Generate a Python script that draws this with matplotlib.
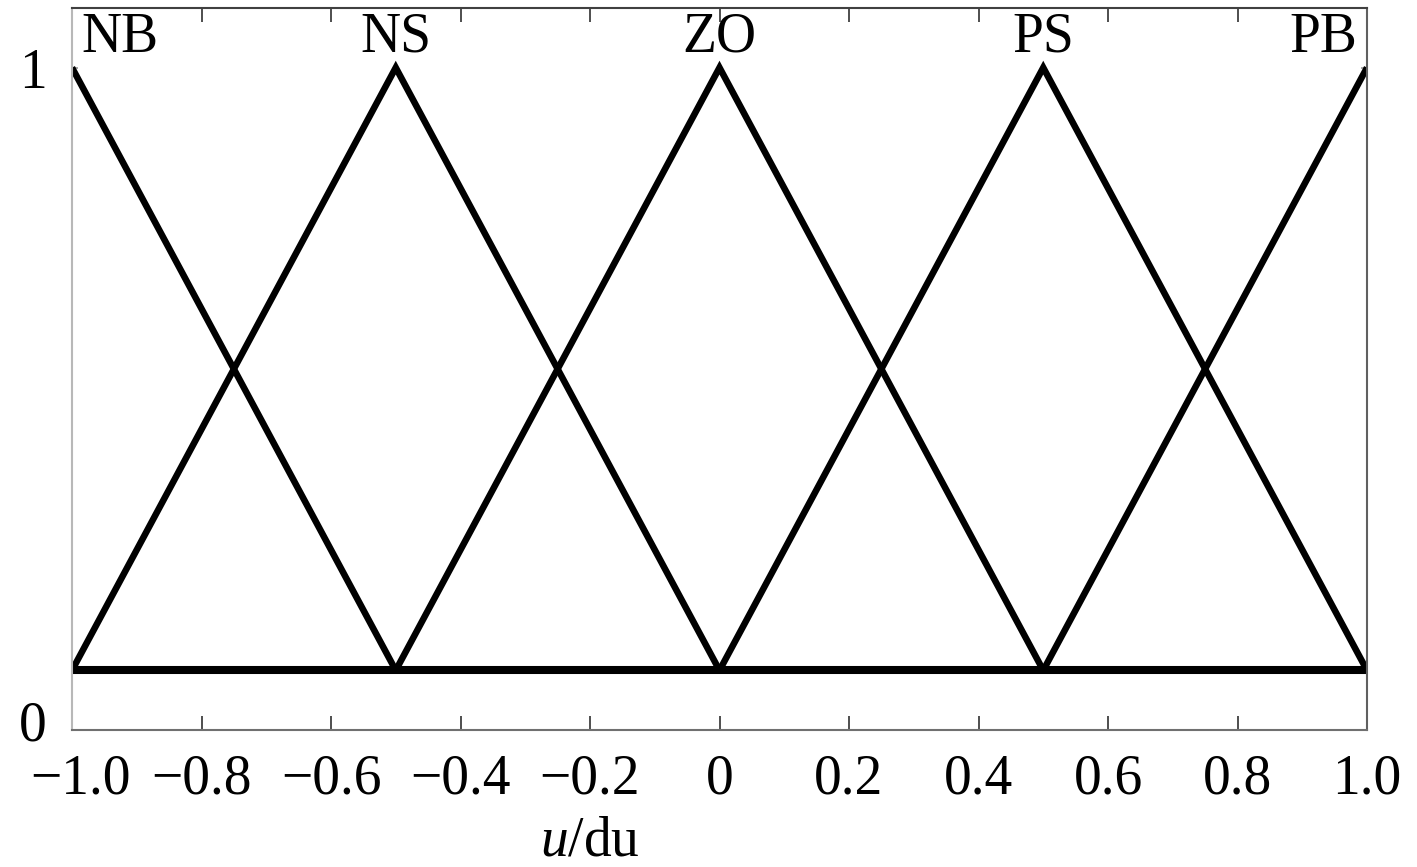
import numpy as np
import matplotlib.pyplot as plt
import matplotlib.transforms as mtransforms

# fuzzy sets for u/du
labels = ['NB', 'NS', 'ZO', 'PS', 'PB']
centers = [-1.0, -0.5, 0.0, 0.5, 1.0]
half_width = 0.5
base = 0.09  # triangles sit a bit above 0 in the original
peak = 1.0
xticks = [-1.0, -0.8, -0.6, -0.4, -0.2, 0.0, 0.2, 0.4, 0.6, 0.8, 1.0]
xticklabels = ['\u22121.0', '\u22120.8', '\u22120.6', '\u22120.4', '\u22120.2', '0',
               '0.2', '0.4', '0.6', '0.8', '1.0']

plt.rcParams['font.family'] = ['Liberation Serif', 'DejaVu Serif']
plt.rcParams['mathtext.fontset'] = 'custom'
plt.rcParams['mathtext.it'] = 'Liberation Serif:italic'
plt.rcParams['mathtext.rm'] = 'Liberation Serif'

fig = plt.figure(figsize=(14.17, 8.67), dpi=100)
ax = fig.add_axes([72 / 1417, 137 / 867, 1295 / 1417, 722 / 867])

for c in centers:
    xs = np.array([c - half_width, c, c + half_width])
    ys = np.array([base, peak, base])
    keep = (xs >= -1.0) & (xs <= 1.0)
    ax.plot(xs[keep], ys[keep], color='black', lw=4.7, solid_joinstyle='miter',
            solid_capstyle='butt')
ax.plot([-1.0, 1.0], [base, base], color='black', lw=5.8, solid_capstyle='butt')

for lab, c in zip(labels, centers):
    if c == centers[0]:
        ax.text(c + 0.015, 1.045, lab, ha='left', va='center', fontsize=40)
    elif c == centers[-1]:
        ax.text(c - 0.015, 1.045, lab, ha='right', va='center', fontsize=40)
    else:
        ax.text(c, 1.045, lab, ha='center', va='center', fontsize=40)

ax.set_xlim(-1.0, 1.0)
ax.set_ylim(0, 1.09)
ax.set_xticks(xticks)
ax.set_xticklabels(xticklabels, fontsize=40)
ax.set_yticks([0, 1])
ax.set_yticklabels(['0', '1'], fontsize=40)
ax.tick_params(axis='x', direction='in', top=True, length=10, width=1.3,
               color='#404040', pad=17)
ax.tick_params(axis='y', direction='in', right=True, length=4, width=1.3,
               color='#a0a0a0', pad=18)

# the "0" sits a bit higher and "-1.0" a bit to the right in the original
lab0 = ax.get_yticklabels()[0]
lab0.set_transform(lab0.get_transform() +
                   mtransforms.ScaledTranslation(0, 7 / 72, fig.dpi_scale_trans))
labm1 = ax.get_xticklabels()[0]
labm1.set_transform(labm1.get_transform() +
                    mtransforms.ScaledTranslation(6 / 72, 0, fig.dpi_scale_trans))

ax.spines['left'].set_color('#b8b8b8')
ax.spines['top'].set_color('#404040')
ax.spines['bottom'].set_color('#707070')
ax.spines['right'].set_color('#606060')
for s in ax.spines.values():
    s.set_linewidth(1.5)

ax.set_xlabel('$u$/du', fontsize=40)
ax.xaxis.set_label_coords(0.40, -0.118)

fig.savefig('out.png', dpi=100)
